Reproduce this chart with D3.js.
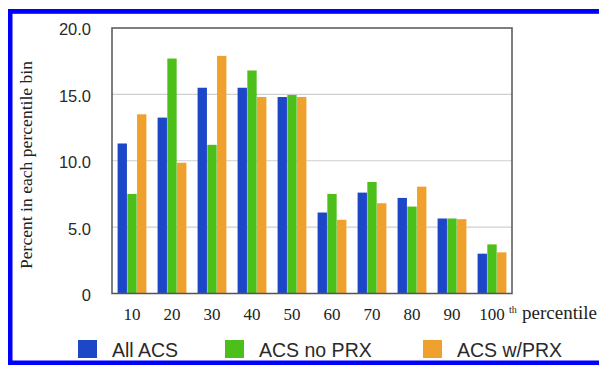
<!DOCTYPE html>
<html><head><meta charset="utf-8">
<script src="https://cdn.jsdelivr.net/npm/d3@7"></script>
<style>
body{margin:0;background:#fff}svg{display:block}
.serif{font-family:"Liberation Serif","Times New Roman",serif;fill:#222}
.sans{font-family:"Liberation Sans",Arial,sans-serif;fill:#2a2a2a}
</style>
</head><body>
<script>
const categories = ["10","20","30","40","50","60","70","80","90","100"];
const seriesNames = ["All ACS","ACS no PRX","ACS w/PRX"];
const allACS   = [11.3, 13.25, 15.5, 15.5, 14.8, 6.1, 7.6, 7.2, 5.65, 3.0];
const acsNoPRX = [7.5, 17.7, 11.2, 16.8, 14.95, 7.5, 8.4, 6.55, 5.65, 3.7];
const acsWPRX  = [13.5, 9.85, 17.9, 14.8, 14.8, 5.55, 6.8, 8.05, 5.6, 3.1];
const yTicks = [0, 5, 10, 15, 20];
const yTickLabels = ["0","5.0","10.0","15.0","20.0"];
const colors = ["#1c48c8","#4dbf1a","#f0a02c"];

const W = 599, H = 366;
const svg = d3.select("body").append("svg").attr("width", W).attr("height", H);
const m = {left:112, top:28, right:512, bottom:293.5};

// blue border (left, top, bottom)
svg.append("rect").attr("x",8).attr("y",9).attr("width",600).attr("height",4.8).attr("fill","#0000ff");
svg.append("rect").attr("x",8).attr("y",9).attr("width",4.5).attr("height",356).attr("fill","#0000ff");
svg.append("rect").attr("x",8).attr("y",360.5).attr("width",600).attr("height",4.5).attr("fill","#0000ff");

const x = d3.scaleBand().domain(categories).range([m.left, m.right]).paddingInner(0.26).paddingOuter(0.13);
const xs = d3.scaleBand().domain(seriesNames).range([0, x.bandwidth()]).padding(0.04);
const y = d3.scaleLinear().domain([0, 20]).range([m.bottom, m.top]);

// gridlines
svg.append("g").selectAll("line").data(yTicks.filter(d => d > 0 && d < 20)).join("line")
  .attr("x1", m.left).attr("x2", m.right).attr("y1", d => y(d)).attr("y2", d => y(d))
  .attr("stroke", "#cfcfcf").attr("stroke-width", 1.2);

const data = [allACS, acsNoPRX, acsWPRX];
const g = svg.append("g");
categories.forEach((c, i) => {
  seriesNames.forEach((s, j) => {
    g.append("rect").attr("x", x(c) + xs(s)).attr("width", xs.bandwidth())
      .attr("y", y(data[j][i])).attr("height", y(0) - y(data[j][i]))
      .attr("fill", colors[j]);
  });
});

// frame
svg.append("rect").attr("x", m.left).attr("y", m.top).attr("width", m.right - m.left).attr("height", m.bottom - m.top)
  .attr("fill", "none").attr("stroke", "#555").attr("stroke-width", 1.5);

// y axis labels
const yAxis = d3.axisLeft(y).tickValues(yTicks).tickFormat((d, i) => yTickLabels[i]).tickSize(0).tickPadding(21);
const ya = svg.append("g").attr("transform", `translate(${m.left},0)`).call(yAxis);
ya.select(".domain").remove();
ya.attr("font-family", null).attr("font-size", null);
ya.selectAll("text").attr("class", "sans").style("font-size", "16.5px").attr("dy", "0.42em");

// x axis labels
const xAxis = d3.axisBottom(x).tickSize(0).tickPadding(14);
const xa = svg.append("g").attr("transform", `translate(0,${m.bottom})`).call(xAxis);
xa.select(".domain").remove();
xa.attr("font-family", null).attr("font-size", null);
xa.selectAll("text").attr("class", "serif").style("font-size", "17px");

// "th percentile"
svg.append("text").attr("class", "serif").attr("x", 509).attr("y", 313).style("font-size", "10px").text("th");
svg.append("text").attr("class", "serif").attr("x", 522).attr("y", 319).style("font-size", "19px").text("percentile");

// y title
svg.append("text").attr("class", "serif").attr("transform", "translate(32,165) rotate(-90)").attr("text-anchor", "middle")
  .style("font-size", "17.6px").text("Percent in each percentile bin");

// legend
const legX = [78, 225, 423];
seriesNames.forEach((s, j) => {
  svg.append("rect").attr("x", legX[j]).attr("y", 340).attr("width", 19).attr("height", 18).attr("fill", colors[j]);
  svg.append("text").attr("class", "sans").attr("x", legX[j] + 34).attr("y", 357)
    .style("font-size", "19.5px").text(s);
});
</script>
</body></html>
